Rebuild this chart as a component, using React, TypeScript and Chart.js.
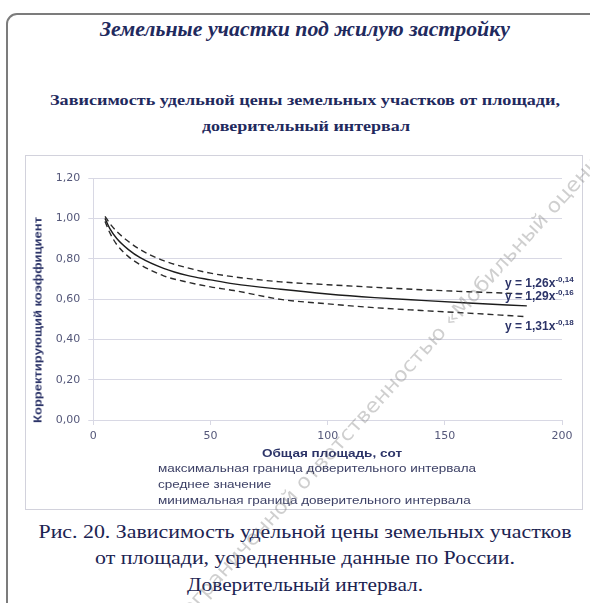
import React, { useEffect, useRef } from "react";
import { Chart, registerables } from "chart.js";

Chart.register(...registerables);

// ---------- data ----------
const areaX = [5, 7, 10, 15, 20, 30, 40, 50, 60, 80, 100, 120, 140, 160, 185];
const maxBound = [1.01, 0.975, 0.935, 0.885, 0.845, 0.79, 0.755, 0.728, 0.71, 0.685, 0.671, 0.658, 0.646, 0.636, 0.625];
const meanValue = [1.0, 0.95, 0.9, 0.845, 0.805, 0.752, 0.717, 0.695, 0.675, 0.648, 0.625, 0.607, 0.593, 0.58, 0.566];
const minBound = [0.985, 0.93, 0.87, 0.81, 0.77, 0.715, 0.684, 0.66, 0.642, 0.598, 0.576, 0.557, 0.543, 0.53, 0.512];

const seriesNames = [
  "максимальная граница доверительного интервала",
  "среднее значение",
  "минимальная граница доверительного интервала",
];
const eqBases = ["y = 1,26x", "y = 1,29x", "y = 1,31x"];
const eqExps = ["-0,14", "-0,16", "-0,18"];

const xTickValues = [0, 50, 100, 150, 200];
const xTickLabels = ["0", "50", "100", "150", "200"];
const yTickLabels = ["0,00", "0,20", "0,40", "0,60", "0,80", "1,00", "1,20"];

const pageTitle = "Земельные участки под жилую застройку";
const chartTitleLines = ["Зависимость удельной цены земельных участков от площади,", "доверительный интервал"];
const xAxisTitle = "Общая площадь, сот";
const yAxisTitle = "Корректирующий коэффициент";
const captionLines = [
  "Рис. 20. Зависимость удельной цены земельных участков",
  "от площади, усредненные данные по России.",
  "Доверительный интервал.",
];
const watermark = "ограниченной ответственностью «Мобильный оценщик»";

// ---------- helpers ----------
let measureCtx: CanvasRenderingContext2D | null = null;
function textWidth(text: string, font: string): number {
  if (!measureCtx) measureCtx = document.createElement("canvas").getContext("2d");
  measureCtx!.font = font;
  return measureCtx!.measureText(text).width;
}

type FitProps = {
  text: string;
  x: number;
  y: number;
  font: string;
  color: string;
  width?: number;
  scale?: number;
  align?: "center" | "left";
  rotate?: number;
  style?: React.CSSProperties;
};

function FitText({ text, x, y, font, color, width, scale, align = "center", rotate = 0, style }: FitProps) {
  const natural = textWidth(text, font);
  const s = scale ?? (width ? width / natural : 1);
  const common: React.CSSProperties = {
    position: "absolute",
    font,
    color,
    whiteSpace: "nowrap",
    lineHeight: 1,
    pointerEvents: "none",
    ...style,
  };
  if (align === "left") {
    return (
      <div
        style={{
          ...common,
          left: x,
          top: y,
          transformOrigin: "left center",
          transform: `translateY(-50%) scaleX(${s})`,
        }}
      >
        {text}
      </div>
    );
  }
  return (
    <div
      style={{
        ...common,
        left: x,
        top: y,
        transformOrigin: "center center",
        transform: `translate(-50%, -50%) rotate(${rotate}deg) scaleX(${s})`,
      }}
    >
      {text}
    </div>
  );
}

// ---------- layout constants ----------
const BOX_L = 25;
const BOX_T = 155;
const BOX_W = 558;
const BOX_H = 355;
const PLOT_L = 93.3;
const PLOT_R = 562;
const PLOT_T = 178;
const PLOT_B = 420;

const SERIF = "'Liberation Serif', 'Times New Roman', Times, serif";
const SANS = "'Liberation Sans', Arial, sans-serif";

const gridColor = "#d8d8e4";
const tickColor = "#55587a";
const navy = "#1f2a5e";

export default function App() {
  const canvasRef = useRef<HTMLCanvasElement>(null);

  useEffect(() => {
    const canvas = canvasRef.current;
    if (!canvas) return;
    const mk = (vals: number[]) => areaX.map((x, i) => ({ x, y: vals[i] }));
    const chart = new Chart(canvas, {
      type: "line",
      data: {
        datasets: [
          {
            label: seriesNames[0],
            data: mk(maxBound),
            borderColor: "#2b2b2b",
            borderWidth: 1.4,
            borderDash: [6, 4],
            pointRadius: 0,
            fill: false,
            cubicInterpolationMode: "monotone",
          },
          {
            label: seriesNames[1],
            data: mk(meanValue),
            borderColor: "#1c1c1c",
            borderWidth: 1.4,
            pointRadius: 0,
            fill: false,
            cubicInterpolationMode: "monotone",
          },
          {
            label: seriesNames[2],
            data: mk(minBound),
            borderColor: "#2b2b2b",
            borderWidth: 1.4,
            borderDash: [6, 4],
            pointRadius: 0,
            fill: false,
            cubicInterpolationMode: "monotone",
          },
        ],
      },
      options: {
        animation: false,
        responsive: false,
        maintainAspectRatio: false,
        events: [],
        layout: {
          padding: {
            left: 0,
            top: PLOT_T - BOX_T,
            right: BOX_L + BOX_W - 1 - PLOT_R,
            bottom: BOX_T + BOX_H - PLOT_B - 40,
          },
        },
        plugins: {
          legend: { display: false },
          tooltip: { enabled: false },
          title: { display: false },
        },
        scales: {
          x: {
            type: "linear",
            min: 0,
            max: 200,
            afterBuildTicks: (scale: any) => {
              scale.ticks = xTickValues.map((v) => ({ value: v }));
            },
            ticks: {
              autoSkip: false,
              maxRotation: 0,
              padding: 5,
              color: tickColor,
              font: { family: "'DejaVu Sans'", size: 11 },
              callback: (value: any) => {
                const i = xTickValues.indexOf(Number(value));
                return i >= 0 ? xTickLabels[i] : "";
              },
            },
            grid: {
              drawOnChartArea: false,
              drawTicks: true,
              tickLength: 5,
              color: gridColor,
            },
            border: { display: true, color: gridColor, width: 1 },
            afterFit: (scale: any) => {
              scale.height = 40;
            },
          },
          y: {
            type: "linear",
            min: 0,
            max: 1.2,
            ticks: {
              stepSize: 0.2,
              padding: 8,
              color: tickColor,
              font: { family: "'DejaVu Sans'", size: 11 },
              callback: (_v: any, i: number) => yTickLabels[i] ?? "",
            },
            grid: {
              color: gridColor,
              lineWidth: 1,
              tickLength: 5,
              drawTicks: true,
            },
            border: { display: true, color: gridColor, width: 1 },
            afterFit: (scale: any) => {
              scale.width = PLOT_L - BOX_L;
            },
          },
        },
      },
    });
    return () => chart.destroy();
  }, []);

  const legendFont = `11px ${SANS}`;
  const legendScale = 318 / textWidth(seriesNames[0], legendFont);

  const wmFont = "20px 'DejaVu Sans'";
  const wmAngle = -47.8;
  const wmStart = { x: 185, y: 612 };
  const wmLen = 659;
  const rad = (wmAngle * Math.PI) / 180;
  const wmCx = wmStart.x + (wmLen / 2) * Math.cos(rad);
  const wmCy = wmStart.y + (wmLen / 2) * Math.sin(rad);

  const eqY = [283, 296, 326];

  return (
    <div
      style={{
        position: "fixed",
        left: 0,
        top: 0,
        width: 590,
        height: 603,
        overflow: "hidden",
        background: "#ffffff",
      }}
    >
      {/* outer card */}
      <div
        style={{
          position: "absolute",
          left: 6,
          top: 13,
          width: 640,
          height: 660,
          border: "2px solid #7c7c7c",
          borderRadius: 11,
          boxSizing: "border-box",
        }}
      />

      <FitText text={pageTitle} x={305} y={29} font={`italic bold 20px ${SERIF}`} color={navy} width={410} />
      <FitText text={chartTitleLines[0]} x={305} y={101} font={`bold 14px ${SERIF}`} color={navy} width={510} />
      <FitText text={chartTitleLines[1]} x={306} y={127} font={`bold 14px ${SERIF}`} color={navy} width={208} />

      {/* chart box */}
      <div
        style={{
          position: "absolute",
          left: BOX_L,
          top: BOX_T,
          width: BOX_W,
          height: BOX_H,
          border: "1px solid #d2d2dc",
          boxSizing: "border-box",
        }}
      />
      <canvas
        ref={canvasRef}
        width={BOX_W - 1}
        height={BOX_H}
        style={{ position: "absolute", left: BOX_L, top: BOX_T, width: BOX_W - 1, height: BOX_H }}
      />

      <FitText text={yAxisTitle} x={38} y={320} font={`bold 11px ${SANS}`} color="#2c3468" width={206} rotate={-90} />
      <FitText text={xAxisTitle} x={332} y={453} font={`bold 11px ${SANS}`} color="#2c3468" width={140} />

      {seriesNames.map((name, i) => (
        <FitText
          key={name}
          text={name}
          x={158}
          y={468 + i * 16}
          font={legendFont}
          color="#3d4166"
          scale={legendScale}
          align="left"
        />
      ))}

      {eqBases.map((b, i) => (
        <div
          key={b}
          style={{
            position: "absolute",
            left: 505,
            top: eqY[i] - 8,
            font: `bold 12px ${SANS}`,
            color: "#2c3468",
            whiteSpace: "nowrap",
            lineHeight: "16px",
          }}
        >
          {b}
          <span style={{ fontSize: 8, position: "relative", top: -5 }}>{eqExps[i]}</span>
        </div>
      ))}

      <FitText text={captionLines[0]} x={305} y={531} font={`19px ${SERIF}`} color="#1c2452" width={533} />
      <FitText text={captionLines[1]} x={305} y={557} font={`19px ${SERIF}`} color="#1c2452" width={420} />
      <FitText text={captionLines[2]} x={305} y={584} font={`19px ${SERIF}`} color="#1c2452" width={236} />

      <FitText
        text={watermark}
        x={wmCx}
        y={wmCy}
        font={wmFont}
        color="rgba(110,110,110,0.33)"
        width={wmLen}
        rotate={wmAngle}
      />
    </div>
  );
}
